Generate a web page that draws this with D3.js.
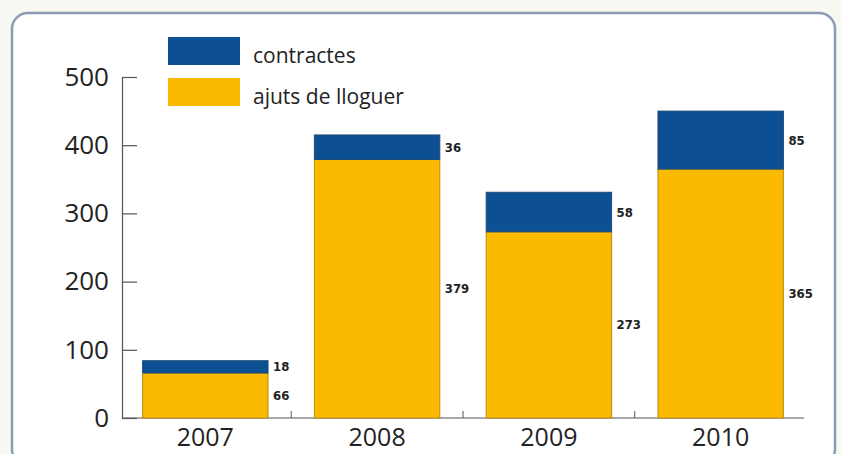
<!DOCTYPE html>
<html>
<head>
<meta charset="utf-8">
<script src="https://cdn.jsdelivr.net/npm/d3@7"></script>
<style>
  body { margin: 0; background: #f8f9f2; }
  svg { display: block; }
</style>
</head>
<body>
<div id="chart"></div>
<script>
var years = ["2007", "2008", "2009", "2010"];
var ajuts = [66, 379, 273, 365];
var contractes = [18, 36, 58, 85];
var yTicks = [0, 100, 200, 300, 400, 500];
var seriesNames = ["contractes", "ajuts de lloguer"];
var seriesColors = ["#0d4f93", "#fbb900"];

var width = 841, height = 454;

var svg = d3.select("#chart").append("svg")
    .attr("width", width)
    .attr("height", height);

// rounded frame
svg.append("rect")
    .attr("x", 12).attr("y", 13)
    .attr("width", 823).attr("height", 452)
    .attr("rx", 16).attr("ry", 16)
    .attr("fill", "#ffffff")
    .attr("stroke", "#8c9cb2")
    .attr("stroke-width", 2.5);

var x = d3.scaleBand()
    .domain(years)
    .range([122, 804])
    .paddingInner(0.27)
    .paddingOuter(0.12);

var y = d3.scaleLinear()
    .domain([0, 500])
    .range([418, 77]);

// y axis
var yAxis = svg.append("g")
    .attr("transform", "translate(122,0)")
    .call(d3.axisLeft(y).tickValues(yTicks).tickSize(-15));
yAxis.select(".domain").attr("stroke", "#555").attr("stroke-width", 1.2);
yAxis.selectAll(".tick line").attr("stroke", "#555").attr("stroke-width", 1.2);
yAxis.selectAll(".tick text")
    .attr("fill", "#222")
    .style("font-family", "'Open Sans', sans-serif")
    .style("font-size", "26px")
    .attr("x", -13);

// x axis with ticks at band boundaries
var bounds = years.slice(1).map(function (d) {
    return x(d) - x.step() * x.paddingInner() / 2;
});
svg.append("line")
    .attr("x1", 122).attr("x2", 804)
    .attr("y1", 418).attr("y2", 418)
    .attr("stroke", "#555").attr("stroke-width", 1.2);
svg.selectAll(".xtick")
    .data(bounds)
    .enter().append("line")
    .attr("class", "xtick")
    .attr("x1", function (d) { return d; })
    .attr("x2", function (d) { return d; })
    .attr("y1", 418).attr("y2", 411)
    .attr("stroke", "#555").attr("stroke-width", 1);

svg.selectAll(".xlabel")
    .data(years)
    .enter().append("text")
    .attr("class", "xlabel")
    .attr("x", function (d) { return x(d) + x.bandwidth() / 2; })
    .attr("y", 446)
    .attr("text-anchor", "middle")
    .attr("fill", "#222")
    .style("font-family", "'Open Sans', sans-serif")
    .style("font-size", "25px")
    .text(function (d) { return d; });

// stacked bars
var bars = svg.selectAll(".bar")
    .data(years)
    .enter().append("g")
    .attr("class", "bar");

bars.append("rect")
    .attr("x", function (d) { return x(d); })
    .attr("width", x.bandwidth())
    .attr("y", function (d, i) { return y(ajuts[i]); })
    .attr("height", function (d, i) { return y(0) - y(ajuts[i]); })
    .attr("fill", seriesColors[1])
    .attr("stroke", "#b78d10")
    .attr("stroke-width", 1);

bars.append("rect")
    .attr("x", function (d) { return x(d); })
    .attr("width", x.bandwidth())
    .attr("y", function (d, i) { return y(ajuts[i] + contractes[i]); })
    .attr("height", function (d, i) { return y(ajuts[i]) - y(ajuts[i] + contractes[i]); })
    .attr("fill", seriesColors[0])
    .attr("stroke", "#1d4a78")
    .attr("stroke-width", 1);

// value labels
function label(sel, fn, ty) {
    sel.append("text")
        .attr("x", function (d) { return x(d) + x.bandwidth() + 5; })
        .attr("y", function (d, i) { return ty(i); })
        .attr("dy", "0.35em")
        .attr("fill", "#222")
        .style("font-family", "'DejaVu Sans Condensed', sans-serif")
        .style("font-weight", "bold")
        .style("font-size", "13px")
        .text(fn);
}
label(bars, function (d, i) { return contractes[i]; }, function (i) {
    return (y(ajuts[i]) + y(ajuts[i] + contractes[i])) / 2;
});
label(bars, function (d, i) { return ajuts[i]; }, function (i) {
    return (y(0) + y(ajuts[i])) / 2;
});

// legend
var legend = svg.selectAll(".legend")
    .data(seriesNames)
    .enter().append("g")
    .attr("class", "legend")
    .attr("transform", function (d, i) { return "translate(168," + (37 + i * 41) + ")"; });

legend.append("rect")
    .attr("width", 72).attr("height", 28)
    .attr("fill", function (d, i) { return seriesColors[i]; });

legend.append("text")
    .attr("x", 85).attr("y", 26)
    .attr("fill", "#222")
    .style("font-family", "'Open Sans', sans-serif")
    .style("font-size", "21px")
    .text(function (d) { return d; });
</script>
</body>
</html>
